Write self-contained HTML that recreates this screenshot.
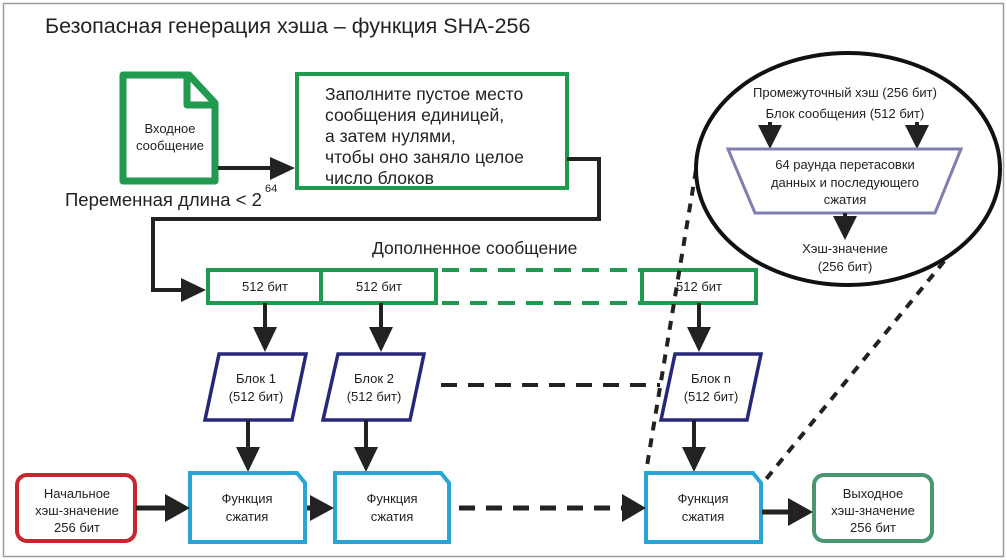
<!DOCTYPE html>
<html><head><meta charset="utf-8"><style>
html,body{margin:0;padding:0;background:#fff;}
svg{display:block;font-family:"Liberation Sans",sans-serif;}
</style></head><body>
<svg width="1007" height="560" viewBox="0 0 1007 560" xmlns="http://www.w3.org/2000/svg">
<rect x="3.5" y="3.5" width="1000" height="553" fill="#fff" stroke="#9a9a9a" stroke-width="1.5"/>
<text x="45" y="33" font-size="21.5" fill="#222">Безопасная генерация хэша – функция SHA-256</text>

<!-- document icon -->
<path d="M123,75 H189 L215,103 V181 H123 Z" fill="#fff" stroke="#1f9a4e" stroke-width="7" stroke-linejoin="round"/>
<path d="M187,75 V105 H215" fill="none" stroke="#1f9a4e" stroke-width="7" stroke-linejoin="round"/>
<text font-size="13" fill="#222" text-anchor="middle"><tspan x="170" y="133">Входное</tspan><tspan x="170" y="150">сообщение</tspan></text>
<text x="65" y="206" font-size="18.5" fill="#222">Переменная длина &lt; 2</text>
<text x="265" y="192" font-size="11" fill="#222">64</text>

<!-- arrow doc -> box -->
<line x1="218" y1="168" x2="272" y2="168" stroke="#222" stroke-width="4"/>
<polygon points="270,157 295,168 270,180" fill="#222"/>

<!-- padding box -->
<rect x="297" y="74" width="270" height="114" fill="#fff" stroke="#1f9a4e" stroke-width="4"/>
<text font-size="17.5" fill="#222"><tspan x="325" y="100">Заполните пустое место</tspan><tspan x="325" y="121">сообщения  единицей,</tspan><tspan x="325" y="142">а затем нулями,</tspan><tspan x="325" y="163">чтобы оно заняло целое</tspan><tspan x="325" y="184">число блоков</tspan></text>

<!-- connector to bar -->
<polyline points="567,159 599,159 599,219 153,219 153,290 185,290" fill="none" stroke="#222" stroke-width="4"/>
<polygon points="181,278 206,290 181,302" fill="#222"/>
<text x="372" y="254" font-size="17.5" fill="#222">Дополненное сообщение</text>

<!-- bar -->
<rect x="208" y="270" width="228" height="33" fill="#fff" stroke="#1f9a4e" stroke-width="4"/>
<line x1="321" y1="270" x2="321" y2="303" stroke="#1f9a4e" stroke-width="4"/>
<line x1="436" y1="270" x2="642" y2="270" stroke="#1f9a4e" stroke-width="4" stroke-dasharray="17,11" stroke-dashoffset="-6"/>
<line x1="436" y1="303" x2="642" y2="303" stroke="#1f9a4e" stroke-width="4" stroke-dasharray="17,11" stroke-dashoffset="-6"/>
<rect x="642" y="270" width="114" height="33" fill="#fff" stroke="#1f9a4e" stroke-width="4"/>
<text font-size="13" fill="#222" text-anchor="middle"><tspan x="265" y="291">512 бит</tspan><tspan x="379" y="291">512 бит</tspan><tspan x="699" y="291">512 бит</tspan></text>

<!-- arrows bar -> blocks -->
<g stroke="#222" stroke-width="4">
<line x1="265" y1="303" x2="265" y2="330"/><line x1="381" y1="303" x2="381" y2="330"/><line x1="699" y1="303" x2="699" y2="330"/>
</g>
<g fill="#222">
<polygon points="253,327 277,327 265,352"/><polygon points="369,327 393,327 381,352"/><polygon points="687,327 711,327 699,352"/>
</g>

<!-- parallelograms -->
<g fill="#fff" stroke="#27287a" stroke-width="3.5">
<polygon points="219,354 306,354 292,420 205,420"/>
<polygon points="338,354 424,354 410,420 323,420"/>
<polygon points="675,354 761,354 747,420 661,420"/>
</g>
<text font-size="13" fill="#222" text-anchor="middle"><tspan x="256" y="383">Блок 1</tspan><tspan x="256" y="401">(512 бит)</tspan><tspan x="374" y="383">Блок 2</tspan><tspan x="374" y="401">(512 бит)</tspan><tspan x="711" y="383">Блок n</tspan><tspan x="711" y="401">(512 бит)</tspan></text>
<line x1="441" y1="385" x2="660" y2="385" stroke="#222" stroke-width="4" stroke-dasharray="16,11"/>

<!-- arrows blocks -> functions -->
<g stroke="#222" stroke-width="4">
<line x1="248" y1="420" x2="248" y2="450"/><line x1="366" y1="420" x2="366" y2="450"/><line x1="694" y1="420" x2="694" y2="450"/>
</g>
<g fill="#222">
<polygon points="236,447 260,447 248,472"/><polygon points="354,447 378,447 366,472"/><polygon points="682,447 706,447 694,472"/>
</g>

<!-- function boxes -->
<g fill="#fff" stroke="#27a6d6" stroke-width="4">
<path d="M190,473 H297 L305,483 V542 H190 Z"/>
<path d="M335,473 H441 L449,483 V542 H335 Z"/>
<path d="M646,473 H753 L761,483 V542 H646 Z"/>
</g>
<text font-size="13" fill="#222" text-anchor="middle"><tspan x="247" y="503">Функция</tspan><tspan x="247" y="521">сжатия</tspan><tspan x="392" y="503">Функция</tspan><tspan x="392" y="521">сжатия</tspan><tspan x="703" y="503">Функция</tspan><tspan x="703" y="521">сжатия</tspan></text>

<!-- initial / output -->
<rect x="17" y="475" width="118" height="66" rx="10" fill="#fff" stroke="#c9252f" stroke-width="4"/>
<text font-size="13" fill="#222" text-anchor="middle"><tspan x="77" y="498">Начальное</tspan><tspan x="77" y="515">хэш-значение</tspan><tspan x="77" y="532">256 бит</tspan></text>
<rect x="814" y="475" width="118" height="66" rx="10" fill="#fff" stroke="#4a9670" stroke-width="4"/>
<text font-size="13" fill="#222" text-anchor="middle"><tspan x="873" y="498">Выходное</tspan><tspan x="873" y="515">хэш-значение</tspan><tspan x="873" y="532">256 бит</tspan></text>

<!-- horizontal arrows -->
<line x1="136" y1="508" x2="168" y2="508" stroke="#222" stroke-width="5"/>
<polygon points="165,494 190,508 165,522" fill="#222"/>
<line x1="307" y1="508" x2="315" y2="508" stroke="#222" stroke-width="5"/>
<polygon points="310,495 334,508 310,521" fill="#222"/>
<line x1="459" y1="508" x2="625" y2="508" stroke="#222" stroke-width="5" stroke-dasharray="16,11"/>
<polygon points="622,494 646,508 622,522" fill="#222"/>
<line x1="762" y1="512" x2="790" y2="512" stroke="#222" stroke-width="5"/>
<polygon points="788,498 813,512 788,526" fill="#222"/>

<!-- dotted zoom lines -->
<line x1="696" y1="170" x2="646" y2="472" stroke="#222" stroke-width="4" stroke-dasharray="9,8"/>
<line x1="955" y1="248" x2="762" y2="484" stroke="#222" stroke-width="4" stroke-dasharray="9,8"/>

<!-- ellipse detail -->
<ellipse cx="848" cy="169" rx="152" ry="116" fill="#fff" stroke="#111" stroke-width="4"/>
<text font-size="13" fill="#222" text-anchor="middle"><tspan x="845" y="97">Промежуточный хэш (256 бит)</tspan><tspan x="845" y="118">Блок сообщения (512 бит)</tspan></text>
<line x1="770" y1="122" x2="770" y2="132" stroke="#222" stroke-width="4"/>
<polygon points="758,125 782,125 770,149" fill="#222"/>
<line x1="917" y1="122" x2="917" y2="132" stroke="#222" stroke-width="4"/>
<polygon points="905,125 929,125 917,149" fill="#222"/>
<polygon points="728,149 961,149 935,213 755,213" fill="#fff" stroke="#7f7fb0" stroke-width="3"/>
<text font-size="13" fill="#222" text-anchor="middle"><tspan x="845" y="169">64 раунда перетасовки</tspan><tspan x="845" y="187">данных и последующего</tspan><tspan x="845" y="204">сжатия</tspan></text>
<line x1="845" y1="213" x2="845" y2="220" stroke="#222" stroke-width="4"/>
<polygon points="833,216 857,216 845,240" fill="#222"/>
<text font-size="13" fill="#222" text-anchor="middle"><tspan x="845" y="253">Хэш-значение</tspan><tspan x="845" y="271">(256 бит)</tspan></text>
</svg>
</body></html>
